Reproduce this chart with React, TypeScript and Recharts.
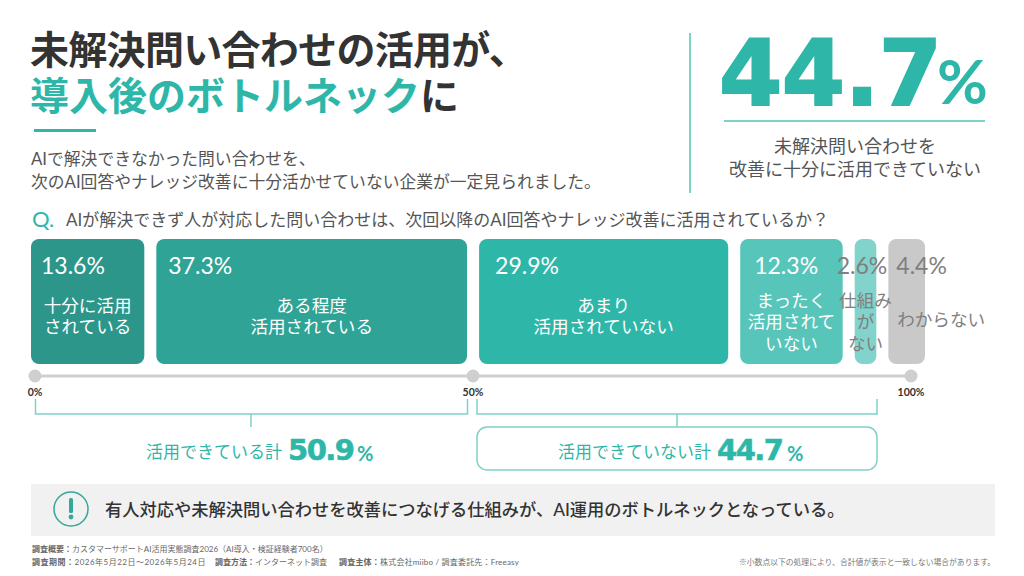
import { BarChart, Bar, XAxis, YAxis, LabelList, LineChart, Line } from "recharts";

const categories = ["十分に活用\nされている", "ある程度\n活用されている", "あまり\n活用されていない", "まったく\n活用されて\nいない", "仕組み\nが\nない", "わからない"];
const shares = [13.6, 37.3, 29.9, 12.3, 2.6, 4.4];
const gapShare = 1.44;
const axisTicks = [0, 50, 100];

const fills = ["#2D968A", "#2FA496", "#2EB7A9", "#58C5BA", "#82D3CB", "#C9C9C9"];
const labelColors = ["#fff", "#fff", "#fff", "#fff", "#7F7F7F", "#7F7F7F"];
const valueX = [10, 12, 16, 14, -18, 8];
const nameX = [0, 0, 0, 0, 0, 34.5];
const nameShift = [-3.5, -3.5, -3.5, 2, 2, 0];

const TEAL = "#2EB7A9";
const LINE_TEAL = "#7DD2C9";
const FONT = 'Lato, "Noto Sans CJK JP", sans-serif';
const JP = '"Noto Sans CJK JP", sans-serif';
const HEAVY = '"DejaVu Sans", sans-serif';

const row: Record<string, number | string> = { name: "all" };
shares.forEach((v, i) => {
  row[`s${i}`] = v;
  if (i < shares.length - 1) row[`g${i}`] = gapShare;
});
const total = shares.reduce((a, b) => a + b, 0) + gapShare * (shares.length - 1);
const axisData = axisTicks.map((t) => ({ pos: t, level: 0.5 }));

function text(left: number, top: number, content: React.ReactNode, style: React.CSSProperties = {}) {
  return (
    <div style={{ position: "absolute", left, top, whiteSpace: "nowrap", fontFamily: FONT, ...style }}>
      {content}
    </div>
  );
}

function segmentLabel(i: number) {
  return (props: any) => {
    const { x, width } = props;
    const lines = categories[i].split("\n");
    const cx = x + width / 2 + nameX[i];
    const startY = 90 - ((lines.length - 1) * 21.5) / 2 + 6 + nameShift[i];
    return (
      <g fontFamily={FONT} fill={labelColors[i]}>
        <text x={x + valueX[i]} y={44} fontSize={23}>
          {shares[i]}%
        </text>
        {lines.map((l, k) => (
          <text key={k} x={cx} y={startY + k * 21.5} fontSize={17.6} textAnchor="middle">
            {l}
          </text>
        ))}
      </g>
    );
  };
}

const bigNumber = { fontWeight: 700, fontFamily: HEAVY, color: TEAL, WebkitTextStroke: `0.6px ${TEAL}` } as React.CSSProperties;
const footer = { fontSize: 8, lineHeight: "12px", color: "#666" };

export default function App() {
  return (
    <div style={{ position: "fixed", left: 0, top: 0, width: 1024, height: 576, background: "#fff", color: "#333", overflow: "hidden" }}>
      {text(30, 25, "未解決問い合わせの活用が、", { fontSize: 39, letterSpacing: -0.7, fontWeight: 700, lineHeight: "44px", fontFamily: JP, color: "#333" })}
      {text(30, 71, <><span style={{ color: TEAL }}>導入後のボトルネック</span>に</>, { fontSize: 39, fontWeight: 700, lineHeight: "44px", fontFamily: JP })}
      <div style={{ position: "absolute", left: 34, top: 129, width: 62, height: 3, background: TEAL }} />
      {text(31, 147, "AIで解決できなかった問い合わせを、", { fontSize: 16.8, lineHeight: "23px", color: "#555" })}
      {text(31, 170, "次のAI回答やナレッジ改善に十分活かせていない企業が一定見られました。", { fontSize: 16.8, lineHeight: "23px", color: "#555" })}

      <div style={{ position: "absolute", left: 689, top: 33, width: 2, height: 160, background: LINE_TEAL }} />
      {text(719, 21, "44.7", { fontSize: 91, letterSpacing: -0.5, lineHeight: "105px", ...bigNumber, WebkitTextStroke: `2px ${TEAL}` })}
      {text(937, 45, "%", { fontSize: 62, fontWeight: 700, color: TEAL, lineHeight: "70px" })}
      <div style={{ position: "absolute", left: 724, top: 120, width: 261, height: 2, background: LINE_TEAL }} />
      <div style={{ position: "absolute", left: 691, top: 135, width: 328, textAlign: "center", fontFamily: FONT, fontSize: 18, lineHeight: "23px", color: "#555" }}>
        未解決問い合わせを
        <br />
        改善に十分に活用できていない
      </div>

      {text(32, 204, "Q.", { fontSize: 22, color: TEAL, lineHeight: "30px" })}
      {text(66, 208, "AIが解決できず人が対応した問い合わせは、次回以降のAI回答やナレッジ改善に活用されているか？", { fontSize: 17, lineHeight: "23px", color: "#555" })}

      <div style={{ position: "absolute", left: 0, top: 230 }}>
        <BarChart
          width={1024}
          height={145}
          layout="vertical"
          data={[row]}
          margin={{ left: 31, right: 1024 - 31 - 894, top: 9, bottom: 11 }}
          barCategoryGap={0}
        >
          <XAxis type="number" hide domain={[0, total]} />
          <YAxis type="category" dataKey="name" hide />
          {shares.map((_, i) => [
            <Bar key={`s${i}`} dataKey={`s${i}`} stackId="a" fill={fills[i]} radius={8} isAnimationActive={false}>
              <LabelList content={segmentLabel(i)} />
            </Bar>,
            i < shares.length - 1 ? (
              <Bar key={`g${i}`} dataKey={`g${i}`} stackId="a" fill="none" isAnimationActive={false} />
            ) : null,
          ])}
        </BarChart>
      </div>

      <div style={{ position: "absolute", left: 0, top: 360 }}>
        <LineChart width={1024} height={46} data={axisData} margin={{ left: 35, right: 113, top: 6, bottom: 0 }}>
          <XAxis
            type="number"
            dataKey="pos"
            domain={[0, 100]}
            ticks={axisTicks}
            axisLine={false}
            tickLine={false}
            height={20}
            tickMargin={0}
            tickFormatter={(v: number) => `${v}%`}
            tick={{ fontSize: 10.5, fill: "#333", fontFamily: FONT, fontWeight: 700, dy: -3 }}
          />
          <YAxis hide domain={[0, 1]} />
          <Line dataKey="level" stroke="#CFCFCF" strokeWidth={3} dot={{ r: 6.5, fill: "#CFCFCF", stroke: "#CFCFCF", strokeWidth: 0 }} isAnimationActive={false} />
        </LineChart>
      </div>

      <svg width={1024} height={480} style={{ position: "absolute", left: 0, top: 0, pointerEvents: "none" }}>
        <path d="M35.5 399V414H467.5V399M251 414V427M477 399V414H877V399M677 414V427" fill="none" stroke={LINE_TEAL} strokeWidth={1.5} />
        <rect x={477} y={427} width={400} height={43} rx={10} fill="none" stroke={LINE_TEAL} strokeWidth={1.5} />
      </svg>

      {text(146, 440, "活用できている計", { fontSize: 17, color: TEAL, lineHeight: "24px" })}
      {text(288, 432, "50.9", { fontSize: 29, letterSpacing: -1.5, lineHeight: "36px", ...bigNumber })}
      {text(357, 441, "%", { fontSize: 20, fontWeight: 700, color: TEAL, lineHeight: "24px" })}
      {text(558, 440, "活用できていない計", { fontSize: 17, color: TEAL, lineHeight: "24px" })}
      {text(717, 432, "44.7", { fontSize: 29, letterSpacing: -1.5, lineHeight: "36px", ...bigNumber })}
      {text(787, 441, "%", { fontSize: 20, fontWeight: 700, color: TEAL, lineHeight: "24px" })}

      <div style={{ position: "absolute", left: 31, top: 484, width: 964, height: 52, background: "#F1F1F1" }} />
      <svg width={60} height={52} style={{ position: "absolute", left: 41, top: 484 }}>
        <circle cx={30} cy={25} r={17} fill="none" stroke="#36A89B" strokeWidth={1.5} />
        <rect x={28} y={14} width={4} height={15} rx={1.5} fill="#36A89B" />
        <circle cx={30} cy={33} r={2.4} fill="#36A89B" />
      </svg>
      {text(105, 498, "有人対応や未解決問い合わせを改善につなげる仕組みが、AI運用のボトルネックとなっている。", { fontSize: 17.25, fontWeight: 500, lineHeight: "24px", color: "#333" })}

      {text(32, 543, <><b>調査概要：</b>カスタマーサポートAI活用実態調査2026（AI導入・検証経験者700名）</>, footer)}
      {text(32, 556, <><b>調査期間：</b>2026年5月22日〜2026年5月24日</>, { ...footer, letterSpacing: 0.5 })}
      {text(215, 556, <><b>調査方法：</b>インターネット調査</>, footer)}
      {text(339, 556, <><b>調査主体：</b>株式会社miibo / 調査委託先：Freeasy</>, { ...footer, letterSpacing: 0.2 })}
      {text(739, 556, "※小数点以下の処理により、合計値が表示と一致しない場合があります。", { fontSize: 7.8, lineHeight: "12px", color: "#777" })}
    </div>
  );
}
